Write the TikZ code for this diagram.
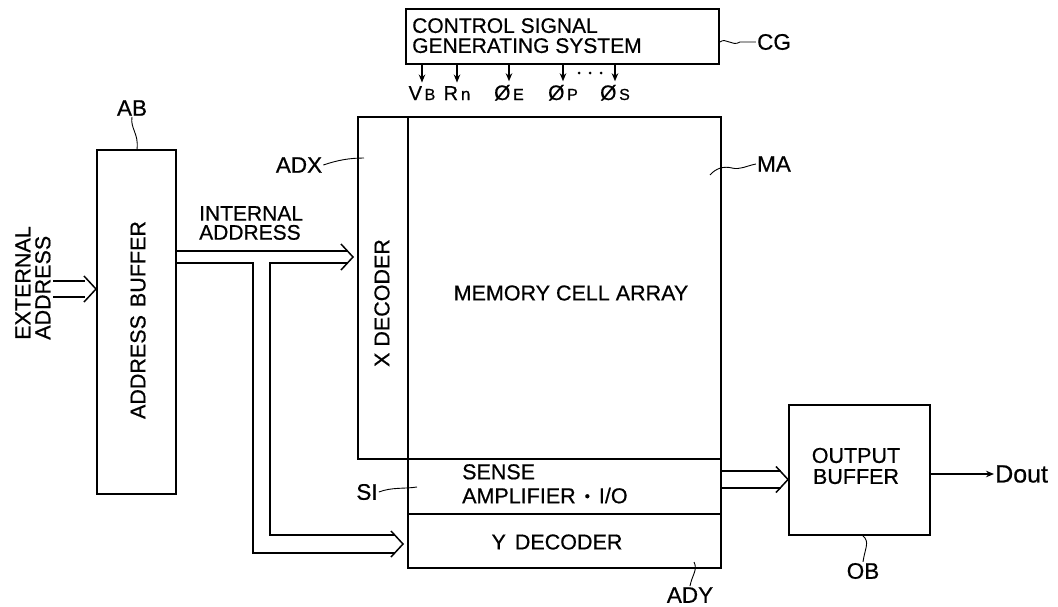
\documentclass[tikz,border=0pt]{standalone}
\usepackage{fontspec}
\setmainfont{Liberation Sans}[FakeBold=0.6]
\usetikzlibrary{arrows.meta,calc}
\begin{document}
\begin{tikzpicture}[x=1pt,y=-1pt,
  blk/.style={draw, line width=1.9pt, inner sep=0pt, anchor=north west},
  txt/.style={font=\fontsize{21.5}{21.5}\selectfont, inner sep=0pt},
  lbl/.style={font=\fontsize{22.5}{22.5}\selectfont, inner sep=1pt},
  bus/.style={line width=1.5pt},
  sig/.style={line width=1.4pt, -{Stealth[length=8pt,width=6.5pt]}},
  lead/.style={line width=0.9pt},
  sgl/.style={inner sep=1.5pt, anchor=base},
  chev/.pic={\draw[line width=1.5pt, line join=miter] (-12,-13) -- (0,0) -- (-12,13);},
  ]
\useasboundingbox (0,0) rectangle (1058,606);

% blocks
\node[blk, minimum width=313pt, minimum height=55pt] (CG) at (405,8) {};
\node[blk, minimum width=79pt, minimum height=344pt] (AB) at (96,149) {};
\node[blk, minimum width=50pt, minimum height=342pt] (XD) at (357,116) {};
\node[blk, minimum width=313pt, minimum height=342pt] (MA) at (407,116) {};
\node[blk, minimum width=313pt, minimum height=55pt] (SA) at (407,458) {};
\node[blk, minimum width=313pt, minimum height=54pt] (YD) at (407,513) {};
\node[blk, minimum width=141pt, minimum height=130pt] (OB) at (788,404) {};

% texts
\node[txt, anchor=north west, align=left, font=\fontsize{21}{20}\selectfont] (CGt) at (412,18) {CONTROL SIGNAL\\GENERATING SYSTEM};
\node[txt, rotate=90, align=left, font=\fontsize{21.5}{20}\selectfont] (EXt) at (33,283) {EXTERNAL\\ADDRESS};
\node[txt, rotate=90] (ABt) at (138,320) {ADDRESS\hspace{8pt}BUFFER};
\node[txt, anchor=north west, align=left, font=\fontsize{21}{19}\selectfont] (IAt) at (199,206) {INTERNAL\\ADDRESS};
\node[txt, rotate=90] (XDt) at (382,303) {X DECODER};
\node[txt] (MAt) at (571,293) {MEMORY CELL ARRAY};
\node[txt, anchor=north west, align=left, font=\fontsize{21.5}{24}\selectfont] (SAt) at (462,464) {SENSE\\AMPLIFIER\hspace{9pt}{\fontsize{15}{15}\selectfont\raisebox{2pt}{•}}\hspace{9pt}I/O};
\node[txt] (YDt) at (557,542) {Y\hspace{3pt} DECODER};
\node[txt, align=center, font=\fontsize{21.5}{21}\selectfont] (OBt) at (856,466) {OUTPUT\\BUFFER};

% reference labels
\node[lbl] (ABl) at (132,108) {AB};
\node[lbl] (ADXl) at (299,165) {ADX};
\node[lbl] (MAl) at (774,164) {MA};
\node[lbl] (CGl) at (774,42) {CG};
\node[lbl] (SIl) at (367,492) {SI};
\node[lbl] (ADYl) at (690,595) {ADY};
\node[lbl] (OBl) at (863,571) {OB};

% leaders
\draw[lead] (CG.east |- CGl.west) .. controls (726,37) and (732,47) .. (740,42) -- (CGl.west);
\draw[lead] (710,175) .. controls (716,168) and (724,166) .. (732,168) .. controls (740,170) and (746,166) .. (MAl.west);
\draw[lead] (ADXl.east) .. controls (338,160) and (350,158) .. (364,158);
\draw[lead] (ABl.south) .. controls (130,128) and (139,134) .. (AB.north -| 137,0);
\draw[lead] (SIl.east) .. controls (392,487) and (404,489) .. (417,487);
\draw[lead] (694,562) .. controls (698,570) and (692,575) .. (ADYl.north);
\draw[lead] (OB.south -| OBl.north) .. controls (870,542) and (865,548) .. (OBl.north);

% control signals
\node[sgl] (VB) at (422,100) {\fontsize{20}{20}\selectfont V\fontsize{16}{16}\selectfont\,B};
\node[sgl] (Rn) at (457,100) {\fontsize{20}{20}\selectfont R\fontsize{17}{17}\selectfont\,n};
\node[sgl] (PE) at (509,100) {\fontsize{21}{21}\selectfont Ø\fontsize{16}{16}\selectfont\,E};
\node[sgl] (PP) at (563,100) {\fontsize{21}{21}\selectfont Ø\fontsize{16}{16}\selectfont\,P};
\node[sgl] (PS) at (615,100) {\fontsize{21}{21}\selectfont Ø\fontsize{16}{16}\selectfont\,S};
\foreach \s in {VB,Rn,PE,PP,PS}{
  \draw[sig, shorten >=2pt] (CG.south -| \s.north) -- (\s.north);
}
\foreach \x in {579,590,601}{\fill (\x,73) circle (1.5pt);}

% external address bus
\coordinate (exU) at (53,281);
\coordinate (exL) at (53,297);
\draw[bus] (exU) -- (85,281);
\draw[bus] (exL) -- (85,297);
\pic at (AB.west |- 0,289) {chev};

% internal address bus
\coordinate (iaU) at (0,251);
\coordinate (iaL) at (0,263);
\draw[bus] (AB.east |- iaU) -- (347,251);
\draw[bus] (AB.east |- iaL) -- (253,263) -- (253,553) -- (395,553);
\draw[bus] (347,263) -- (270,263) -- (270,535) -- (395,535);
\pic at (353,257) {chev};
\pic at (403,544) {chev};

% output bus
\coordinate (obU) at (0,471);
\coordinate (obL) at (0,488);
\draw[bus] (SA.east |- obU) -- (781,471);
\draw[bus] (SA.east |- obL) -- (781,488);
\pic at (OB.west |- 0,479.5) {chev};

% Dout
\node[lbl, anchor=west, font=\fontsize{25}{25}\selectfont] (Dout) at (994,474) {Dout};
\draw[sig] (OB.east |- Dout.west) -- (Dout.west);
\end{tikzpicture}
\end{document}
